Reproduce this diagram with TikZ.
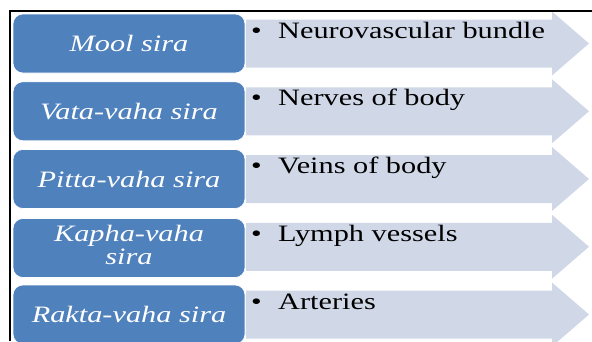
\documentclass[tikz,border=0pt]{standalone}
\usepackage{fontspec}
\setmainfont{Liberation Serif}
\definecolor{boxblue}{RGB}{79,129,189}
\definecolor{arrowfill}{RGB}{208,216,232}
\newcommand{\stretchtext}[1]{\scalebox{1.29}[1]{#1}}
\begin{document}
\begin{tikzpicture}[x=1pt,y=-1pt,
  lbox/.style={rounded corners=10pt, fill=boxblue, draw=white, line width=0.6pt,
    minimum width=232pt, minimum height=59pt, inner sep=0pt, text=white,
    font=\fontsize{23.5}{21}\selectfont\itshape, align=center},
  arrowshape/.style={fill=arrowfill},
  item/.style={anchor=base west, inner sep=0pt, font=\fontsize{23.5}{28}\selectfont, text=black},
  frameline/.style={line width=2pt, draw=black}]
\useasboundingbox (0,0) rectangle (592,341);
\clip (0,0) rectangle (592,341);
\foreach \c in {43.5,111.25,179,246.75,314.5}{
  \fill[arrowshape] (246,\c-24) -- (552,\c-24) -- (552,\c-32) -- (589,\c) -- (552,\c+32) -- (552,\c+24) -- (246,\c+24) -- cycle;
}
\node[lbox] (b1) at (129,43.5) {\stretchtext{Mool sira}};
\node[lbox] (b2) at (129,111.25) {\stretchtext{Vata-vaha sira}};
\node[lbox] (b3) at (129,179) {\stretchtext{Pitta-vaha sira}};
\node[lbox] (b4) at (129,248) {\stretchtext{\begin{tabular}{@{}c@{}}Kapha-vaha\\[1pt] sira\end{tabular}}};
\node[lbox] (b5) at (129,314.5) {\stretchtext{Rakta-vaha sira}};
\foreach \c/\t [count=\i] in {43.5/Neurovascular bundle,111.25/Nerves of body,179/Veins of body,246.75/Lymph vessels,314.5/Arteries}{
  \node[item] (bul\i) at (251,\c-5.5) {\stretchtext{•}};
  \node[item] (t\i) at (278,\c-5.5) {\stretchtext{\t}};
}
\draw[frameline] (10,341) -- (10,11) -- (592,11);
\end{tikzpicture}
\end{document}
